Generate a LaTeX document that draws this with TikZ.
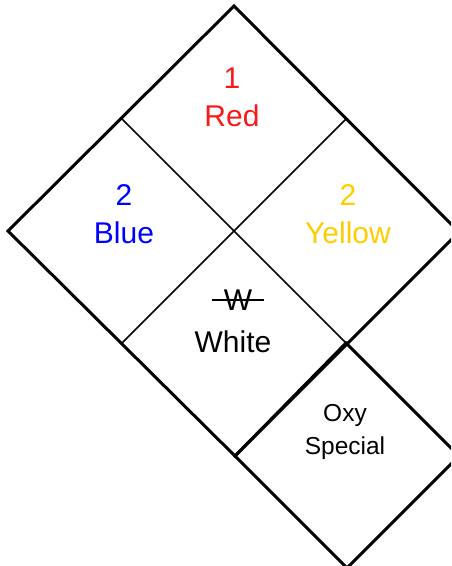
\documentclass[tikz,border=0pt]{standalone}
\usepackage{fontspec}
\setmainfont{Liberation Sans}
\definecolor{nfpared}{RGB}{250,25,25}
\definecolor{nfpablue}{RGB}{0,0,255}
\definecolor{nfpayellow}{RGB}{255,204,0}
\begin{document}
\begin{tikzpicture}[x=1pt,y=-1pt,
  border/.style={line width=3pt, line join=miter},
  innerline/.style={line width=1.5pt},
  lbl/.style={font=\fontsize{30}{38}\selectfont, align=center, inner sep=0pt},
  sml/.style={font=\fontsize{24.5}{33}\selectfont, align=center, inner sep=0pt}]
\useasboundingbox (0,0) rectangle (451,566);
\clip (0,0) rectangle (451,566);
% outer diamond
\coordinate (T) at (234,6);
\coordinate (L) at (8,231);
\coordinate (R) at (459,232);
\coordinate (B) at (235,456);
% inner junctions
\coordinate (UL) at (121,118);
\coordinate (UR) at (346,119);
\coordinate (LL) at (122,343);
\coordinate (LR) at (346,343);
% small diamond
\coordinate (SR) at (459,456);
\coordinate (SB) at (347,568);
\draw[innerline] (UL) -- (LR);
\draw[innerline] (LL) -- (UR);
\draw[border] (T) -- (R) -- (B) -- (L) -- cycle;
\draw[border] (LR) -- (SR) -- (SB) -- (B) -- cycle;
% labels
\node[lbl, text=nfpared] (red) at (232,97) {1\\Red};
\node[lbl, text=nfpablue] (blue) at (124,214) {2\\Blue};
\node[lbl, text=nfpayellow] (yellow) at (348,214) {2\\Yellow};
\node[lbl, inner xsep=12pt] (w) at (238,300) {W};
\draw[line width=1.4pt] (w.west) -- (w.east);
\node[lbl] (white) at (233,342) {White};
\node[sml] (oxy) at (345,432) {Oxy\\Special};
\end{tikzpicture}
\end{document}
